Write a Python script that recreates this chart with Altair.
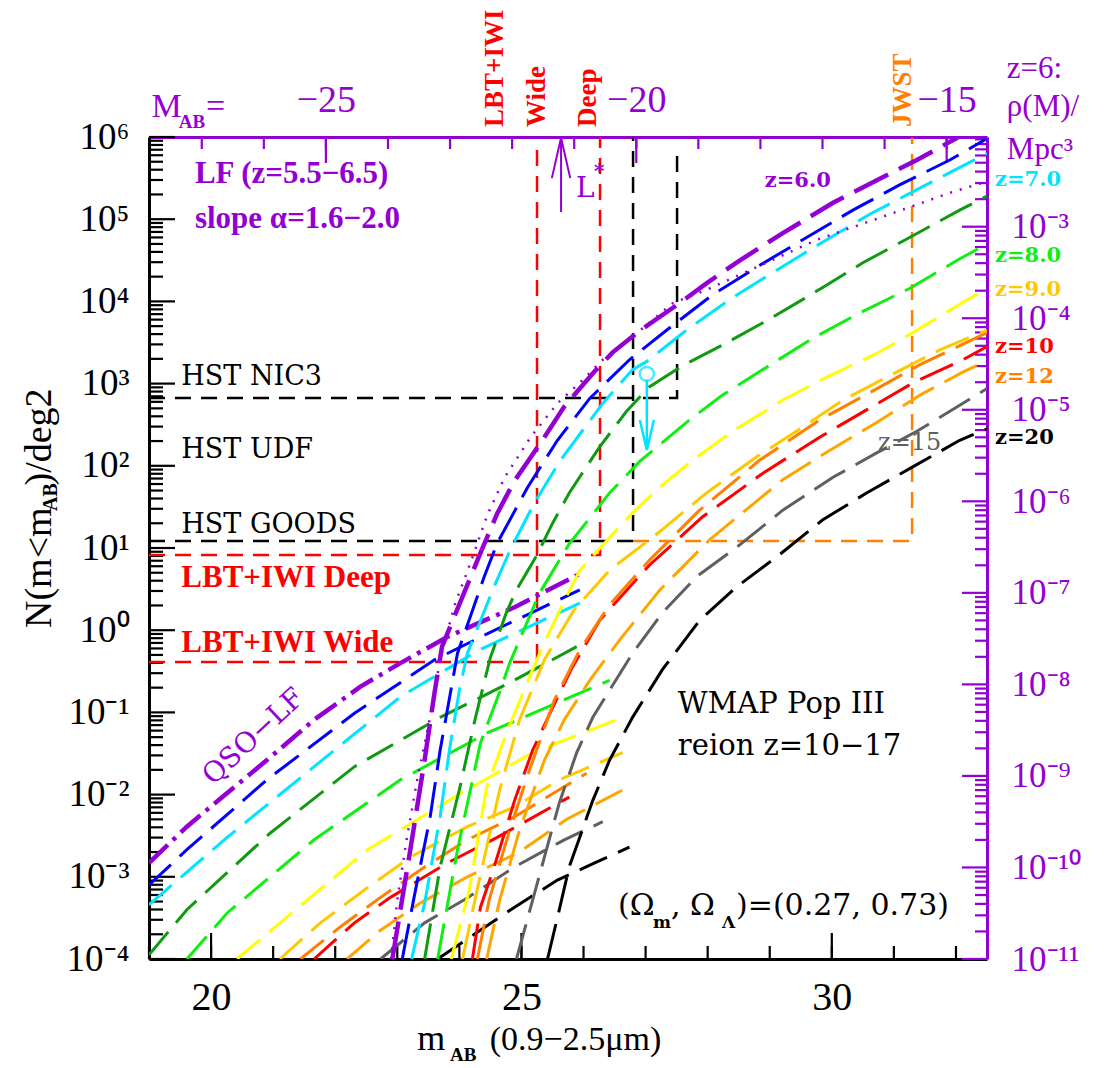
import math
import altair as alt
import pandas as pd

FONT = "Liberation Serif"
SERIF = "DejaVu Serif"
PURPLE = "#9400D3"
BLUE = "#0000FF"
CYAN = "#00E5FF"
DKGREEN = "#109A10"
GREEN = "#10F010"
YELLOW = "#FFFF00"
GOLD = "#FFC800"
DKORANGE = "#FF8000"
RED = "#FF0000"
LTORANGE = "#FFA500"
GREY = "#606060"
BLACK = "#000000"

X_DOM = [19.0, 32.5]
Y_DOM = [1e-4, 1e6]
R_DOM = [1e-11, 10 ** -2.02]
W, H = 838, 822

# ---------------- galaxy LF curves (m_AB, log10 N) ----------------
Z6_M = [22.92, 23.21, 23.44, 23.60, 23.72, 24.34, 24.61, 24.89, 25.31, 25.69, 26.18, 26.47, 26.90, 27.55, 27.98, 28.52, 29.00, 29.21, 30.02, 30.82, 31.37, 32.02, 32.5]
Z6_L = [-4.0, -2.67, -1.58, -0.76, -0.20, 0.94, 1.42, 1.82, 2.28, 2.72, 3.15, 3.38, 3.64, 3.98, 4.22, 4.50, 4.73, 4.83, 5.20, 5.51, 5.72, 5.99, 6.2]
Z6D_M = [22.90, 23.00, 23.15, 23.32, 23.52, 23.69, 23.92, 24.18, 24.45, 24.73, 25.15, 25.58, 25.94, 26.31, 26.79, 27.44, 27.98, 28.68, 29.76, 30.82, 31.90, 32.5]
Z6D_L = [-4.0, -3.28, -2.55, -1.82, -1.09, -0.36, 0.30, 0.82, 1.40, 1.86, 2.35, 2.76, 3.01, 3.29, 3.57, 3.98, 4.14, 4.38, 4.75, 5.03, 5.32, 5.46]
Z65_M = [23.08, 23.27, 23.53, 23.69, 23.97, 24.40, 24.61, 25.10, 25.58, 26.10, 26.74, 27.44, 28.08, 28.84, 29.60, 30.34, 31.10, 31.90, 32.5]
Z65_L = [-4.0, -3.25, -2.27, -1.46, -0.28, 0.65, 1.06, 1.74, 2.31, 2.82, 3.29, 3.71, 4.08, 4.44, 4.78, 5.11, 5.42, 5.72, 5.98]
Z7_M = [23.23, 23.44, 23.69, 23.84, 24.00, 24.13, 24.56, 24.82, 25.21, 25.63, 26.31, 26.79, 27.02, 27.66, 28.35, 29.11, 29.85, 30.61, 31.37, 32.5]
Z7_L = [-4.0, -3.32, -2.27, -1.46, -0.73, -0.28, 0.53, 0.98, 1.55, 2.07, 2.76, 3.17, 3.27, 3.65, 4.02, 4.38, 4.72, 5.06, 5.36, 5.80]
Z75_M = [23.44, 23.69, 24.00, 24.26, 24.50, 24.76, 24.92, 25.24, 25.50, 25.77, 26.26, 26.69, 27.06, 27.60, 28.24, 28.89, 29.48, 29.92, 30.50, 31.26, 32.06, 32.5]
Z75_L = [-4.0, -2.88, -1.94, -1.06, -0.33, 0.22, 0.49, 0.90, 1.30, 1.67, 2.23, 2.66, 2.96, 3.22, 3.47, 3.74, 4.00, 4.20, 4.47, 4.78, 5.11, 5.28]
Z8_M = [23.65, 23.97, 24.34, 24.65, 24.81, 25.29, 25.77, 26.42, 26.90, 27.71, 28.24, 28.95, 29.69, 30.45, 31.26, 32.02, 32.5]
Z8_L = [-4.0, -2.67, -1.37, -0.75, -0.40, 0.45, 1.05, 1.67, 2.05, 2.56, 2.86, 3.20, 3.55, 3.86, 4.16, 4.50, 4.70]
Z85_M = [23.87, 24.16, 24.44, 24.76, 25.13, 25.34, 25.73, 25.94, 26.79, 27.23, 27.76, 28.40, 29.21, 29.92, 30.73, 31.37, 32.18, 32.5]
Z85_L = [-4.0, -3.16, -1.91, -1.25, -0.57, -0.20, 0.42, 0.73, 1.43, 1.74, 2.07, 2.42, 2.80, 3.08, 3.37, 3.65, 4.02, 4.15]
Z9_M = [24.05, 24.32, 24.65, 24.97, 25.37, 25.85, 26.42, 27.23, 27.98, 28.79, 29.53, 30.18, 30.94, 31.74, 32.5]
Z9_L = [-4.0, -3.04, -1.94, -1.09, -0.36, 0.25, 0.73, 1.20, 1.67, 2.11, 2.47, 2.80, 3.10, 3.41, 3.65]
Z10_M = [24.21, 24.34, 24.56, 24.89, 25.18, 25.56, 25.82, 26.26, 27.06, 27.92, 28.89, 29.81, 30.56, 31.31, 32.11, 32.5]
Z10_L = [-4.0, -3.37, -2.88, -2.07, -1.46, -0.85, -0.45, 0.12, 0.79, 1.38, 1.91, 2.35, 2.68, 3.01, 3.29, 3.45]
Z12_M = [24.29, 24.48, 24.81, 25.13, 25.53, 25.94, 26.42, 27.06, 27.87, 28.84, 29.81, 30.61, 31.42, 32.5]
Z12_L = [-4.0, -3.28, -2.43, -1.70, -0.85, -0.24, 0.31, 0.85, 1.46, 2.07, 2.56, 2.89, 3.23, 3.62]
Z12B_M = [24.44, 24.65, 24.97, 25.37, 25.69, 26.10, 26.58, 27.23, 28.03, 29.21, 29.97, 30.73, 31.42, 32.11, 32.5]
Z12B_L = [-4.0, -3.28, -2.43, -1.58, -1.09, -0.61, -0.12, 0.49, 1.10, 1.83, 2.19, 2.53, 2.86, 3.14, 3.28]
Z15_M = [24.92, 25.08, 25.61, 25.89, 26.15, 26.79, 27.27, 27.82, 28.47, 29.21, 30.02, 30.73, 31.37, 32.5]
Z15_L = [-4.0, -3.56, -2.10, -1.49, -1.06, -0.28, 0.21, 0.65, 1.01, 1.46, 1.86, 2.16, 2.42, 2.94]
Z20_M = [25.42, 25.61, 25.77, 26.15, 26.42, 26.79, 27.27, 27.87, 28.47, 29.11, 29.85, 30.56, 31.31, 32.06, 32.5]
Z20_L = [-4.0, -3.40, -2.88, -2.07, -1.58, -1.06, -0.48, 0.12, 0.53, 0.89, 1.34, 1.67, 1.99, 2.31, 2.45]

# ---------------- QSO-LF branches ----------------
Q6_M = [19.0, 19.61, 20.26, 20.90, 21.66, 22.40, 23.05, 23.81, 24.89, 25.98]
Q6_L = [-2.83, -2.39, -1.98, -1.58, -1.09, -0.69, -0.40, -0.08, 0.28, 0.70]
Q65_M = [19.0, 19.61, 20.90, 22.31, 23.60, 24.65, 25.94]
Q65_L = [-3.10, -2.67, -1.82, -1.01, -0.36, 0.03, 0.49]
Q7_M = [19.0, 20.26, 21.66, 23.05, 24.32, 25.94]
Q7_L = [-3.34, -2.52, -1.66, -0.81, -0.24, 0.33]
Q75_M = [19.0, 19.61, 20.95, 22.31, 23.69, 24.81, 25.89]
Q75_L = [-3.95, -3.40, -2.47, -1.66, -1.06, -0.64, -0.20]
Q8_M = [19.61, 20.26, 21.66, 23.05, 24.45, 25.31, 26.42]
Q8_L = [-4.0, -3.44, -2.55, -1.82, -1.25, -0.97, -0.61]
Q85_M = [20.42, 21.11, 22.52, 23.92, 25.18, 26.53]
Q85_L = [-4.0, -3.56, -2.67, -2.03, -1.49, -1.09]
Q9_M = [21.11, 21.76, 22.47, 23.21, 24.13, 24.89, 25.61, 26.63]
Q9_L = [-4.0, -3.56, -3.16, -2.76, -2.39, -2.15, -1.82, -1.49]
Q12_M = [21.44, 22.08, 22.73, 23.44, 24.13, 24.89, 26.05]
Q12_L = [-4.0, -3.61, -3.25, -2.88, -2.55, -2.27, -1.74]
Q10_M = [21.66, 22.31, 22.89, 23.81, 24.61, 25.77]
Q10_L = [-4.0, -3.56, -3.25, -2.83, -2.52, -2.03]
Q12B_M = [22.19, 22.73, 23.37, 24.13, 24.94, 25.73, 26.69]
Q12B_L = [-4.0, -3.65, -3.32, -3.00, -2.71, -2.30, -1.92]
Q15_M = [22.73, 23.44, 24.08, 24.89, 25.69, 26.31]
Q15_L = [-4.0, -3.56, -3.28, -2.88, -2.55, -2.33]
Q20_M = [23.65, 24.18, 24.89, 25.58, 26.18, 26.74]
Q20_L = [-4.0, -3.73, -3.37, -3.04, -2.83, -2.64]

# ---------------- survey limits ----------------
NIC3_M = [19.0, 27.507, 27.507]
NIC3_L = [2.825, 2.825, 5.85]
GOODS_M = [19.0, 26.798, 26.798]
GOODS_L = [1.085, 1.085, 5.99]
JWST_M = [26.798, 31.293, 31.293]
JWST_L = [1.085, 1.085, 5.99]
DEEP_M = [19.0, 26.266, 26.266]
DEEP_L = [0.915, 0.915, 5.99]
WIDE_M = [19.0, 25.251, 25.251]
WIDE_L = [-0.387, -0.387, 5.85]

# data point (upper limit) and L* arrow
PT_M = [27.02]
PT_L = [3.117]
ARROW_M = [27.02, 27.02]
ARROW_L = [3.05, 2.192]
AHEAD_M = [26.907, 27.02, 27.133]
AHEAD_L = [2.557, 2.192, 2.557]
LSTAR_M = [25.638, 25.638]
LSTAR_L = [5.088, 5.99]
LHEAD_M = [25.49, 25.638, 25.786]
LHEAD_L = [5.50, 5.99, 5.50]

# axis tick values
DECADES = [10.0 ** k for k in range(-4, 7)]
DEC_LABELS = ["10⁻⁴", "10⁻³", "10⁻²", "10⁻¹", "10⁰", "10¹", "10²", "10³", "10⁴", "10⁵", "10⁶"]
MINORS = [j * 10.0 ** k for k in range(-4, 6) for j in range(2, 10)]
R_DECADES = [10.0 ** k for k in range(-11, -2)]
R_LABELS = ["10⁻¹¹", "10⁻¹⁰", "10⁻⁹", "10⁻⁸", "10⁻⁷", "10⁻⁶", "10⁻⁵", "10⁻⁴", "10⁻³"]
R_MINORS = [j * 10.0 ** k for k in range(-11, -2) for j in range(2, 10)]
X_MAJOR = [20.0, 25.0, 30.0]
X_MINOR = [float(v) for v in range(19, 33)]
DIST_MOD = 46.85
TOP_MAJOR = [21.85, 26.85, 31.85]
TOP_MINOR = [19.85 + k for k in range(13)]

XS = alt.Scale(domain=X_DOM, nice=False, zero=False)
YS = alt.Scale(type="log", domain=Y_DOM, nice=False)
RS = alt.Scale(type="log", domain=R_DOM, nice=False)

MAG_PER_PX = (X_DOM[1] - X_DOM[0]) / W
DEX_PER_PX = (math.log10(Y_DOM[1]) - math.log10(Y_DOM[0])) / H


def ldf(ms, ls):
    return pd.DataFrame({"m": ms, "N": [10.0 ** v for v in ls], "i": list(range(len(ms)))})


def line(ms, ls, color, width, dash=None):
    kw = dict(color=color, strokeWidth=width, clip=True)
    if dash is not None:
        kw["strokeDash"] = dash
    return alt.Chart(ldf(ms, ls)).mark_line(**kw).encode(
        x=alt.X("m:Q", scale=XS, axis=None),
        y=alt.Y("N:Q", scale=YS, axis=None),
        order="i:Q",
    )


def text(ms, ls, texts, font=SERIF, **kw):
    df = pd.DataFrame({"m": ms, "N": [10.0 ** v for v in ls], "t": texts})
    opts = dict(font=font)
    opts.update(kw)
    return alt.Chart(df).mark_text(**opts).encode(
        x=alt.X("m:Q", scale=XS, axis=None),
        y=alt.Y("N:Q", scale=YS, axis=None),
        text="t:N",
    )


def r_to_logn(r):
    f = (math.log10(r) - math.log10(R_DOM[0])) / (math.log10(R_DOM[1]) - math.log10(R_DOM[0]))
    return math.log10(Y_DOM[0]) + f * (math.log10(Y_DOM[1]) - math.log10(Y_DOM[0]))


# ---------------- all inward ticks in one table ----------------
y_lo, y_hi = math.log10(Y_DOM[0]), math.log10(Y_DOM[1])
x_lo, x_hi = X_DOM
tick_rows = []


def add_x(values, at, length, direction, color):
    for v in values:
        tick_rows.append({"xa": v, "xb": v, "ya": 10.0 ** at,
                          "yb": 10.0 ** (at + direction * length * DEX_PER_PX), "c": color})


def add_y(logvals, at, length, direction, color):
    for v in logvals:
        tick_rows.append({"xa": at, "xb": at + direction * length * MAG_PER_PX,
                          "ya": 10.0 ** v, "yb": 10.0 ** v, "c": color})


add_x(X_MAJOR, y_lo, 26, 1, BLACK)
add_x(X_MINOR, y_lo, 13, 1, BLACK)
add_x(TOP_MAJOR, y_hi, 26, -1, PURPLE)
add_x(TOP_MINOR, y_hi, 12, -1, PURPLE)
add_y([math.log10(v) for v in DECADES], x_lo, 26, 1, BLACK)
add_y([math.log10(v) for v in MINORS], x_lo, 14, 1, BLACK)
add_y([r_to_logn(v) for v in R_DECADES], x_hi, 25, -1, PURPLE)
add_y([r_to_logn(v) for v in R_MINORS], x_hi, 12, -1, PURPLE)

ticks = alt.Chart(pd.DataFrame(tick_rows)).mark_rule(strokeWidth=2.2).encode(
    x=alt.X("xa:Q", scale=XS, axis=None), x2="xb:Q",
    y=alt.Y("ya:Q", scale=YS, axis=None), y2="yb:Q",
    color=alt.Color("c:N", scale=None, legend=None),
)

GAL = [36, 12]
QSO = [30, 12]
SURV = [16, 10]
LW = 3
layers = [ticks]
# survey lines
layers += [
    line(NIC3_M, NIC3_L, BLACK, 2.5, SURV),
    line(GOODS_M, GOODS_L, BLACK, 2.5, SURV),
    line(JWST_M, JWST_L, DKORANGE, 2.5, SURV),
    line(DEEP_M, DEEP_L, RED, 2.5, SURV),
    line(WIDE_M, WIDE_L, RED, 2.5, SURV),
]
# QSO branches
layers += [
    line(Q20_M, Q20_L, BLACK, LW, QSO),
    line(Q15_M, Q15_L, GREY, LW, QSO),
    line(Q12B_M, Q12B_L, LTORANGE, LW, QSO),
    line(Q10_M, Q10_L, RED, LW, QSO),
    line(Q12_M, Q12_L, DKORANGE, LW, QSO),
    line(Q9_M, Q9_L, GOLD, LW, QSO),
    line(Q85_M, Q85_L, YELLOW, LW, QSO),
    line(Q8_M, Q8_L, GREEN, LW, QSO),
    line(Q75_M, Q75_L, DKGREEN, LW, QSO),
    line(Q7_M, Q7_L, CYAN, LW, QSO),
    line(Q65_M, Q65_L, BLUE, LW, QSO),
    line(Q6_M, Q6_L, PURPLE, 4.5, [26, 7, 4, 7]),
]
# galaxy curves
layers += [
    line(Z20_M, Z20_L, BLACK, LW, GAL),
    line(Z15_M, Z15_L, GREY, LW, GAL),
    line(Z12B_M, Z12B_L, LTORANGE, LW, GAL),
    line(Z10_M, Z10_L, RED, LW, GAL),
    line(Z12_M, Z12_L, DKORANGE, LW, GAL),
    line(Z9_M, Z9_L, GOLD, LW, GAL),
    line(Z85_M, Z85_L, YELLOW, LW, GAL),
    line(Z8_M, Z8_L, GREEN, LW, GAL),
    line(Z75_M, Z75_L, DKGREEN, LW, GAL),
    line(Z7_M, Z7_L, CYAN, LW, GAL),
    line(Z65_M, Z65_L, BLUE, LW, GAL),
    line(Z6D_M, Z6D_L, PURPLE, 2.5, [2, 8]),
    line(Z6_M, Z6_L, PURPLE, 4.5, [38, 12]),
]
# data point + arrows
layers += [
    alt.Chart(ldf(PT_M, PT_L)).mark_point(shape="circle", size=200, filled=False, color=CYAN, strokeWidth=2.5).encode(
        x=alt.X("m:Q", scale=XS, axis=None), y=alt.Y("N:Q", scale=YS, axis=None)),
    line(ARROW_M, ARROW_L, CYAN, 2.5),
    line(AHEAD_M, AHEAD_L, CYAN, 2.5),
    line(LSTAR_M, LSTAR_L, PURPLE, 2),
    line(LHEAD_M, LHEAD_L, PURPLE, 2),
]

# ---------------- annotations ----------------
layers += [
    text([19.52, 19.52, 19.52], [2.983, 2.095, 1.183], ["HST NIC3", "HST UDF", "HST GOODS"],
         align="left", baseline="alphabetic", fontSize=27, color=BLACK),
    text([19.52, 19.52], [0.526, -0.265], ["LBT+IWI  Deep", "LBT+IWI  Wide"], font=FONT,
         align="left", baseline="alphabetic", fontSize=31, fontWeight="bold", color=RED),
    text([19.74, 19.74], [5.44, 4.89], ["LF (z=5.5−6.5)", "slope α=1.6−2.0"], font=FONT,
         align="left", baseline="alphabetic", fontSize=31, fontWeight="bold", color=PURPLE),
    text([28.92], [5.39], ["z=6.0"], align="left", baseline="alphabetic", fontSize=21, fontWeight="bold", color=PURPLE),
    text([25.88], [5.27], ["L"], align="left", baseline="alphabetic", fontSize=28, color=PURPLE),
    text([26.17], [5.50], ["*"], align="left", baseline="alphabetic", fontSize=20, fontWeight="bold", color=PURPLE),
    text([20.69], [-1.30], ["QSO−LF"], align="center", baseline="middle", fontSize=28, angle=317, color=PURPLE),
    text([30.745], [2.277], ["z=15"], align="left", baseline="middle", fontSize=24, color=GREY),
    text([27.52, 27.52], [-1.007, -1.518], ["WMAP  Pop  III", "reion  z=10−17"],
         align="left", baseline="alphabetic", fontSize=29, color=BLACK),
    text([26.556, 27.41, 28.457], [-3.465, -3.465, -3.465], ["(Ω", ",  Ω", ")=(0.27,  0.73)"],
         align="left", baseline="alphabetic", fontSize=30, color=BLACK),
    text([27.12, 28.232], [-3.62, -3.62], ["m", "Λ"], align="left", baseline="alphabetic",
         fontSize=17, fontWeight="bold", color=BLACK),
    # right side redshift labels
    text([32.63], [5.477], ["z=7.0"], align="left", baseline="middle", fontSize=21, fontWeight="bold", color=CYAN),
    text([32.63], [4.552], ["z=8.0"], align="left", baseline="middle", fontSize=21, fontWeight="bold", color=GREEN),
    text([32.63], [4.139], ["z=9.0"], align="left", baseline="middle", fontSize=21, fontWeight="bold", color=GOLD),
    text([32.63], [3.445], ["z=10"], align="left", baseline="middle", fontSize=21, fontWeight="bold", color=RED),
    text([32.63], [3.080], ["z=12"], align="left", baseline="middle", fontSize=21, fontWeight="bold", color=DKORANGE),
    text([32.63], [2.338], ["z=20"], align="left", baseline="middle", fontSize=21, fontWeight="bold", color=BLACK),
    # top right purple title of right axis
    text([32.82, 32.82, 32.82], [6.827, 6.365, 5.84], ["z=6:", "ρ(M)/", "Mpc³"], font=FONT,
         align="left", baseline="middle", fontSize=31, color=PURPLE),
    # M_AB=
    text([19.04], [6.243], ["M"], font=FONT, align="left", baseline="alphabetic", fontSize=34, color=PURPLE),
    text([19.48], [6.11], ["AB"], font=FONT, align="left", baseline="alphabetic", fontSize=19, fontWeight="bold", color=PURPLE),
    text([19.92], [6.243], ["="], font=FONT, align="left", baseline="alphabetic", fontSize=34, color=PURPLE),
    # rotated survey labels above the frame
    text([24.574, 25.25, 26.07], [6.122, 6.122, 6.122], ["LBT+IWI", "Wide", "Deep"], font=FONT,
         align="left", baseline="middle", angle=270, fontSize=27, fontWeight="bold", color=RED),
    text([31.15], [6.122], ["JWST"], font=FONT, align="left", baseline="middle", angle=270, fontSize=27,
         fontWeight="bold", color=DKORANGE),
    # x-axis title
    text([23.32], [-5.107], ["m"], font=FONT, align="left", baseline="alphabetic", fontSize=36, color=BLACK),
    text([23.85], [-5.24], ["AB"], font=FONT, align="left", baseline="alphabetic", fontSize=19, fontWeight="bold", color=BLACK),
    text([24.49], [-5.107], ["(0.9−2.5μm)"], font=FONT, align="left", baseline="alphabetic", fontSize=34, color=BLACK),
    # y-axis title (rotated)
    text([17.244], [0.027], ["N(m<m"], font=FONT, align="left", baseline="middle", angle=270, fontSize=38, color=BLACK),
    text([17.42], [1.45], ["AB"], font=FONT, align="left", baseline="middle", angle=270, fontSize=20, fontWeight="bold", color=BLACK),
    text([17.244], [1.76], [")/deg2"], font=FONT, align="left", baseline="middle", angle=270, fontSize=38, color=BLACK),
]

# ---------------- axes (labels + frame) ----------------
DUMMY = pd.DataFrame({"m": [25.0], "N": [1.0], "r": [1e-6]})


def axis_x(axis):
    return alt.Chart(DUMMY).mark_point(opacity=0).encode(
        x=alt.X("m:Q", scale=XS, axis=axis), y=alt.Y("N:Q", scale=YS, axis=None))


def axis_y(axis):
    return alt.Chart(DUMMY).mark_point(opacity=0).encode(
        x=alt.X("m:Q", scale=XS, axis=None), y=alt.Y("N:Q", scale=YS, axis=axis))


def axis_r(axis):
    return alt.Chart(DUMMY).mark_point(opacity=0).encode(
        x=alt.X("m:Q", scale=XS, axis=None), y=alt.Y("r:Q", scale=RS, axis=axis))


dec_expr = "[" + ",".join("'%s'" % s for s in DEC_LABELS) + "][round(log(datum.value)/LN10)+4]"
r_expr = "[" + ",".join("'%s'" % s for s in R_LABELS) + "][round(log(datum.value)/LN10)+11]"
top_expr = "'−' + format(abs(round(datum.value - %s)), 'd')" % DIST_MOD

layers += [
    axis_x(alt.Axis(orient="bottom", values=X_MAJOR, ticks=False, domain=True, domainColor=BLACK, domainWidth=3,
                    labelFont=FONT, labelFontSize=40, labelColor=BLACK, labelPadding=18, labelFlush=False,
                    labelOverlap=False, grid=False, title=None)),
    axis_x(alt.Axis(orient="top", values=TOP_MAJOR, labelExpr=top_expr, ticks=False, domain=True,
                    domainColor=PURPLE, domainWidth=3, labelFont=FONT, labelFontSize=38, labelColor=PURPLE,
                    labelPadding=18, labelFlush=False, labelOverlap=False, grid=False, title=None)),
    axis_y(alt.Axis(orient="left", values=DECADES, labelExpr=dec_expr, ticks=False, domain=True,
                    domainColor=BLACK, domainWidth=3, labelFont=FONT, labelFontSize=37, labelColor=BLACK,
                    labelPadding=20, labelFlush=False, labelOverlap=False, grid=False, title=None)),
    axis_r(alt.Axis(orient="right", values=R_DECADES, labelExpr=r_expr, ticks=False, domain=True,
                    domainColor=PURPLE, domainWidth=3, labelFont=FONT, labelFontSize=35, labelColor=PURPLE,
                    labelPadding=24, labelFlush=False, labelOverlap=False, grid=False, title=None)),
]

chart = alt.layer(*layers).resolve_scale(x="independent", y="independent").properties(
    width=W, height=H,
    padding={"left": 141, "top": 129, "right": 116, "bottom": 109},
    autosize=alt.AutoSizeParams(type="none"),
).configure_view(stroke=None)

chart.save("out.html", embed_options={"renderer": "svg", "actions": False})
